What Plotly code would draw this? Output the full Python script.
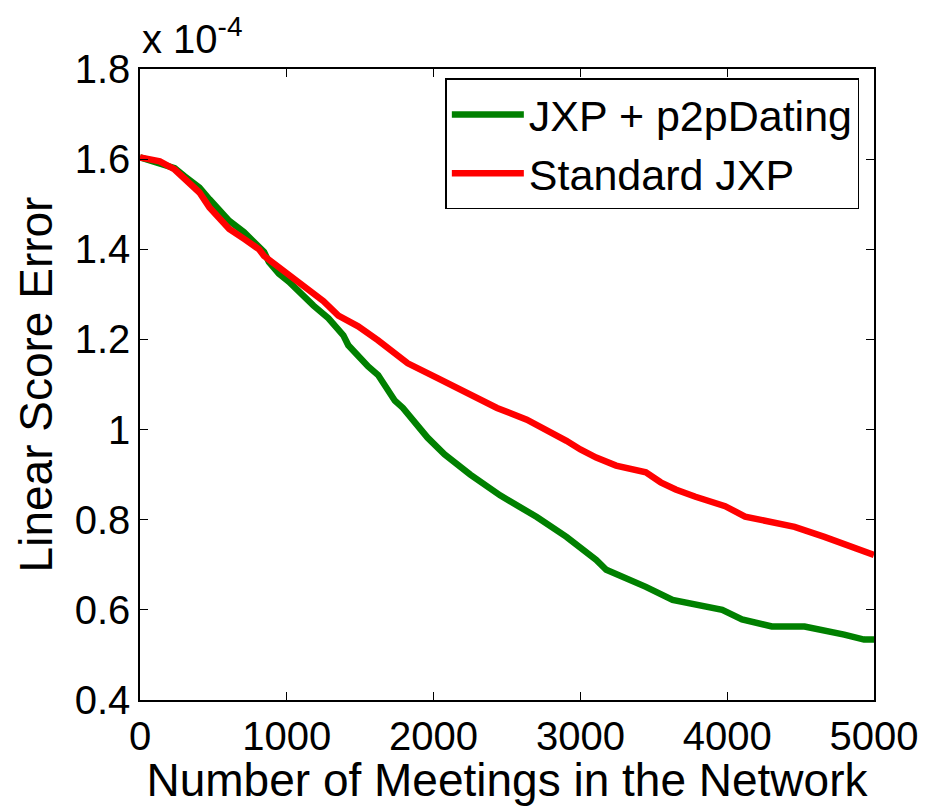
import plotly.graph_objects as go

# Values in units of 1e-4
meetings_std = [0, 135, 236, 304, 405, 473, 540, 608, 709, 811, 845, 946, 1014, 1101, 1169,
                1250, 1351, 1486, 1622, 1824, 2027, 2230, 2432, 2635, 2770, 2905, 3000, 3108,
                3243, 3446, 3547, 3649, 3784, 3986, 4122, 4257, 4459, 4662, 4797, 4932, 5000]
error_std = [1.604, 1.595, 1.577, 1.555, 1.526, 1.493, 1.467, 1.445, 1.423, 1.400, 1.385, 1.360,
             1.340, 1.320, 1.302, 1.285, 1.253, 1.229, 1.198, 1.147, 1.114, 1.081, 1.048, 1.022,
             1.000, 0.975, 0.956, 0.938, 0.920, 0.905, 0.883, 0.867, 0.851, 0.830, 0.807, 0.798,
             0.784, 0.762, 0.746, 0.733, 0.722]

meetings_dating = [0, 236, 304, 405, 473, 540, 608, 709, 777, 845, 878, 946, 1014, 1081, 1182,
                   1284, 1351, 1385, 1419, 1486, 1554, 1622, 1736, 1791, 1959, 2074, 2250, 2453,
                   2703, 2905, 3108, 3176, 3332, 3446, 3628, 3784, 3966, 4101, 4304, 4527, 4682,
                   4797, 4932, 5000]
error_dating = [1.604, 1.580, 1.562, 1.537, 1.511, 1.485, 1.463, 1.438, 1.418, 1.394, 1.372, 1.346,
                1.328, 1.306, 1.275, 1.247, 1.224, 1.209, 1.187, 1.163, 1.140, 1.121, 1.064, 1.048,
                0.982, 0.945, 0.900, 0.854, 0.806, 0.762, 0.711, 0.689, 0.669, 0.651, 0.622, 0.612,
                0.600, 0.579, 0.563, 0.563, 0.554, 0.545, 0.534, 0.534]

x_ticks = [0, 1000, 2000, 3000, 4000, 5000]
y_ticks = [0.4, 0.6, 0.8, 1.0, 1.2, 1.4, 1.6, 1.8]
y_ticktext = ["0.4", "0.6", "0.8", "1", "1.2", "1.4", "1.6", "1.8"]

FONT = "Arial, Liberation Sans, Helvetica, sans-serif"

fig = go.Figure()
fig.add_trace(go.Scatter(x=meetings_dating, y=error_dating, mode="lines",
                         name="JXP + p2pDating", line=dict(color="#008000", width=6.5)))
fig.add_trace(go.Scatter(x=meetings_std, y=error_std, mode="lines",
                         name="Standard JXP", line=dict(color="#ff0000", width=6.5)))

axis_common = dict(showgrid=False, zeroline=False, showline=True, linecolor="black",
                   linewidth=1.5, mirror="ticks", ticks="inside", ticklen=8,
                   tickcolor="black", tickwidth=1,
                   tickfont=dict(family=FONT, size=40, color="black"))

fig.update_xaxes(range=[0, 5000], tickvals=x_ticks, ticktext=[str(v) for v in x_ticks],
                 title=dict(text="Number of Meetings in the Network",
                            font=dict(family=FONT, size=46, color="black"), standoff=4),
                 **axis_common)
fig.update_yaxes(range=[0.4, 1.8], tickvals=y_ticks, ticktext=y_ticktext,
                 title=dict(text="Linear Score Error",
                            font=dict(family=FONT, size=46, color="black"), standoff=8),
                 **axis_common)

fig.add_annotation(xref="paper", yref="paper", x=0, y=1, xanchor="left", yanchor="bottom",
                   yshift=6, text="x 10<sup>-4</sup>", showarrow=False,
                   font=dict(family=FONT, size=40, color="black"))

fig.update_layout(
    width=930, height=806,
    margin=dict(l=140, r=50, t=69, b=102),
    paper_bgcolor="white", plot_bgcolor="white",
    showlegend=True,
    legend=dict(x=0.416, y=0.985, xanchor="left", yanchor="top",
                bgcolor="white", bordercolor="black", borderwidth=1.5,
                font=dict(family=FONT, size=43, color="black"),
                itemwidth=72, tracegroupgap=0),
)

fig.write_html("out.html")
